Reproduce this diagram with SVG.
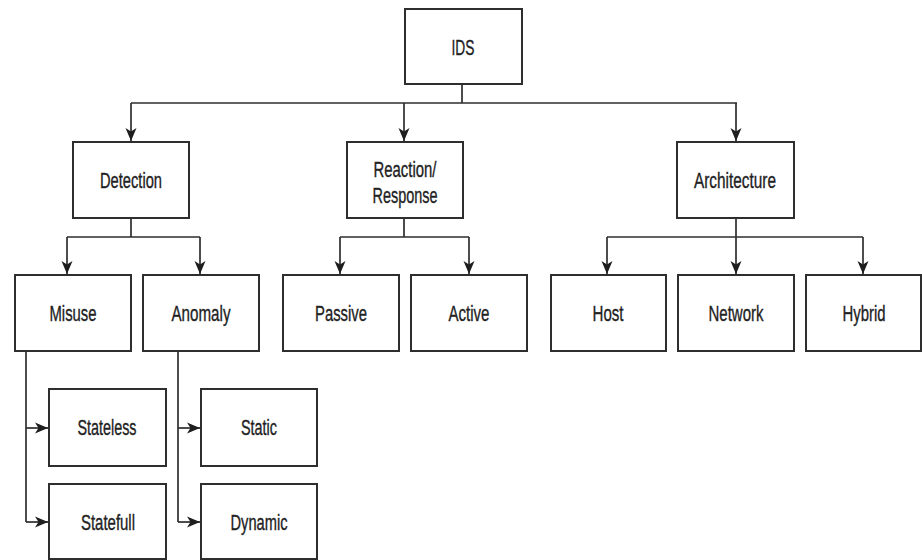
<svg xmlns="http://www.w3.org/2000/svg" width="922" height="560" viewBox="0 0 922 560">
  <defs>
    <marker id="arrow" markerUnits="userSpaceOnUse" markerWidth="16" markerHeight="14" viewBox="-15 -7 16 14" refX="0" refY="0" orient="auto">
      <path d="M -13 -5.5 L 0 0 L -13 5.5 L -9.5 0 Z" fill="#1e1e1e"/>
    </marker>
    <style>
      .box { fill: #ffffff; stroke: #2e2e2e; stroke-width: 2; }
      .lbl { font-family: "Liberation Sans", Arial, sans-serif; font-size: 22px; fill: #222222; stroke: #222222; stroke-width: 0.35; text-anchor: middle; }
      .wire { fill: none; stroke: #2e2e2e; stroke-width: 1.7; }
      .arr { fill: none; stroke: #2e2e2e; stroke-width: 1.7; marker-end: url(#arrow); }
    </style>
  </defs>
  <rect width="922" height="560" fill="#ffffff"/>

  <!-- connectors -->
  <g id="connectors">
    <path class="wire" d="M 462 84 V 103 M 131 103 H 737"/>
    <path class="arr" d="M 131 103 V 141"/>
    <path class="arr" d="M 404 103 V 141"/>
    <path class="arr" d="M 736 103 V 141"/>

    <path class="wire" d="M 131 218 V 237 M 67 237 H 200"/>
    <path class="arr" d="M 67 237 V 274"/>
    <path class="arr" d="M 200 237 V 274"/>

    <path class="wire" d="M 404 218 V 237 M 340 237 H 469"/>
    <path class="arr" d="M 340 237 V 274"/>
    <path class="arr" d="M 469 237 V 274"/>

    <path class="wire" d="M 607 237 H 863"/>
    <path class="arr" d="M 736 218 V 274"/>
    <path class="arr" d="M 607 237 V 274"/>
    <path class="arr" d="M 863 237 V 274"/>

    <path class="wire" d="M 26 351 V 522"/>
    <path class="arr" d="M 26 428 H 48"/>
    <path class="arr" d="M 26 522 H 48"/>

    <path class="wire" d="M 178 351 V 522"/>
    <path class="arr" d="M 178 428 H 200"/>
    <path class="arr" d="M 178 522 H 200"/>
  </g>

  <g id="ids"><rect class="box" x="405" y="9" width="117" height="75"/><text class="lbl" x="463" y="55" textLength="23" lengthAdjust="spacingAndGlyphs">IDS</text></g>

  <g id="detection"><rect class="box" x="73" y="142" width="116" height="76"/><text class="lbl" x="131" y="188" textLength="62" lengthAdjust="spacingAndGlyphs">Detection</text></g>
  <g id="reaction"><rect class="box" x="347" y="142" width="116" height="76"/><text class="lbl" x="405" y="177" textLength="63" lengthAdjust="spacingAndGlyphs">Reaction/</text><text class="lbl" x="405" y="203" textLength="65" lengthAdjust="spacingAndGlyphs">Response</text></g>
  <g id="architecture"><rect class="box" x="677" y="142" width="117" height="76"/><text class="lbl" x="735" y="188" textLength="82" lengthAdjust="spacingAndGlyphs">Architecture</text></g>

  <g id="misuse"><rect class="box" x="15" y="275" width="116" height="76"/><text class="lbl" x="73" y="321" textLength="47" lengthAdjust="spacingAndGlyphs">Misuse</text></g>
  <g id="anomaly"><rect class="box" x="143" y="275" width="116" height="76"/><text class="lbl" x="201" y="321" textLength="59" lengthAdjust="spacingAndGlyphs">Anomaly</text></g>
  <g id="passive"><rect class="box" x="283" y="275" width="116" height="76"/><text class="lbl" x="341" y="321" textLength="52" lengthAdjust="spacingAndGlyphs">Passive</text></g>
  <g id="active"><rect class="box" x="411" y="275" width="116" height="76"/><text class="lbl" x="469" y="321" textLength="41" lengthAdjust="spacingAndGlyphs">Active</text></g>
  <g id="host"><rect class="box" x="551" y="275" width="115" height="76"/><text class="lbl" x="608" y="321" textLength="31" lengthAdjust="spacingAndGlyphs">Host</text></g>
  <g id="network"><rect class="box" x="678" y="275" width="116" height="76"/><text class="lbl" x="736" y="321" textLength="55" lengthAdjust="spacingAndGlyphs">Network</text></g>
  <g id="hybrid"><rect class="box" x="806" y="275" width="115" height="76"/><text class="lbl" x="864" y="321" textLength="43" lengthAdjust="spacingAndGlyphs">Hybrid</text></g>

  <g id="stateless"><rect class="box" x="49" y="389" width="117" height="77"/><text class="lbl" x="107" y="435" textLength="59" lengthAdjust="spacingAndGlyphs">Stateless</text></g>
  <g id="static"><rect class="box" x="201" y="389" width="116" height="77"/><text class="lbl" x="259" y="435" textLength="36" lengthAdjust="spacingAndGlyphs">Static</text></g>
  <g id="statefull"><rect class="box" x="49" y="484" width="117" height="75"/><text class="lbl" x="108" y="530" textLength="54" lengthAdjust="spacingAndGlyphs">Statefull</text></g>
  <g id="dynamic"><rect class="box" x="201" y="484" width="116" height="75"/><text class="lbl" x="259" y="530" textLength="57" lengthAdjust="spacingAndGlyphs">Dynamic</text></g>
</svg>
